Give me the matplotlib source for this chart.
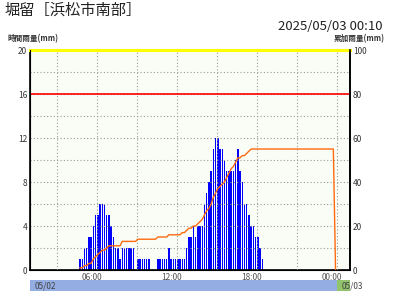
import matplotlib
matplotlib.use("Agg")
import matplotlib.pyplot as plt

plt.rcParams['font.family'] = ['Noto Sans CJK JP', 'DejaVu Sans']

station = "堀留［浜松市南部］"
stamp = "2025/05/03 00:10"

# one value every 10 minutes, first one ends at 04:50 (05/02), minutes from 05/02 00:00
first_end = 4 * 60 + 50
rain_1h = [1, 1, 2, 2, 3, 3,
           4, 5, 5, 6, 6, 6,
           5, 5, 4, 3, 2, 2,
           1, 2, 2, 2, 2, 2,
           2, 0, 1, 1, 1, 1,
           1, 1, 0, 0, 0, 1,
           1, 1, 1, 1, 2, 1,
           1, 1, 1, 1, 1, 1,
           2, 3, 3, 4, 3, 4,
           4, 4, 6, 7, 8, 9,
           11, 12, 12, 11, 11, 10,
           9, 9, 9, 9, 10, 11,
           9, 8, 6, 6, 5, 4,
           4, 3, 3, 2, 1]

rain_cum = [1, 1, 2, 2, 3, 3,
            5, 6, 7, 8, 9, 9,
            10, 11, 11, 11, 11, 11,
            11, 13, 13, 13, 13, 13,
            13, 13, 14, 14, 14, 14,
            14, 14, 14, 14, 14, 15,
            15, 15, 15, 15, 16, 16,
            16, 16, 16, 16, 17, 17,
            18, 19, 19, 20, 20, 21,
            22, 23, 25, 27, 28, 30,
            33, 35, 37, 38, 39, 40,
            42, 44, 46, 47, 49, 51,
            51, 52, 52, 53, 54, 55,
            55, 55, 55, 55, 55, 55,
            55, 55, 55, 55, 55, 55,
            55, 55, 55, 55, 55, 55,
            55, 55, 55, 55, 55, 55,
            55, 55, 55, 55, 55, 55,
            55, 55, 55, 55, 55, 55,
            55, 0]

hour_ticks = [360, 720, 1080, 1440]
hour_labels = ["06:00", "12:00", "18:00", "00:00"]
day_labels = ["05/02", "05/03"]

x_lo, x_hi = 60, 1500
bar_x = [first_end + 10 * i - 5 for i in range(len(rain_1h))]
cum_x = [first_end + 10 * i - 5 for i in range(len(rain_cum))]

fig = plt.figure(figsize=(4, 3), dpi=100)
ax = fig.add_axes([0.075, 0.1, 0.8, 0.7333])
ax.set_facecolor('#fafdf6')
ax.set_xlim(x_lo, x_hi)
ax.set_ylim(0, 20)

ax.bar(bar_x, rain_1h, width=6.5, color='#0000ff', linewidth=0, zorder=2)

# dotted grid on top of the bars
ax.hlines(range(2, 20, 2), x_lo, x_hi, colors='#999999', linestyles=(0, (1, 2)), lw=0.8, zorder=3)
ax.vlines(range(180, 1441, 180), 0, 20, colors='#999999', linestyles=(0, (1, 2)), lw=0.8, zorder=3)
ax.axhline(16, color='#ff0000', lw=1.2, zorder=4)
ax.axhline(20, color='#ffff00', lw=2.2, zorder=5, clip_on=False)

for s in ['left', 'bottom', 'right']:
    ax.spines[s].set_color('black')
    ax.spines[s].set_linewidth(1.2)
ax.spines['top'].set_visible(False)

ax.set_yticks(range(0, 21, 4))
ax.set_xticks([])
ax.tick_params(axis='y', length=0, labelsize=6, labelcolor='#333333', pad=2)
for t, lab in zip(hour_ticks, hour_labels):
    ax.text(t - 21, -0.25, lab, ha='center', va='top', fontsize=6, color='#555555')

ax2 = ax.twinx()
ax2.set_ylim(0, 100)
ax2.plot(cum_x, rain_cum, color='#ff6a10', lw=1.0, zorder=6)
ax2.set_yticks(range(0, 101, 20))
ax2.tick_params(axis='y', length=0, labelsize=6, labelcolor='#333333', pad=2)
ax2.spines['top'].set_visible(False)
ax2.spines['right'].set_linewidth(1.2)

fig.text(5 / 400, 1 - 10 / 300, station, fontsize=11, color='#222222', va='center', ha='left')
fig.text(382 / 400, 1 - 27 / 300, stamp, fontsize=9.5, color='#222222', va='center', ha='right')
fig.text(7 / 400, 1 - 38.5 / 300, "時間雨量(mm)", fontsize=5.5, color='#333333', va='center', ha='left', weight='bold')
fig.text(385 / 400, 1 - 38.5 / 300, "累加雨量(mm)", fontsize=5.5, color='#333333', va='center', ha='right', weight='bold')

# date strip
ax3 = fig.add_axes([0.075, 1 - 291 / 300, 0.8, 11 / 300])
ax3.set_xlim(x_lo, x_hi)
ax3.set_ylim(0, 1)
ax3.axis('off')
ax3.axvspan(x_lo, 1440, color='#94aee4', lw=0)
ax3.axvspan(1440, x_hi, color='#92c46e', lw=0)
ax3.text(x_lo + 22, 0.45, day_labels[0], fontsize=6, color='#444444', va='center', ha='left')
ax3.text(1464, 0.45, day_labels[1], fontsize=6, color='#444444', va='center', ha='left', clip_on=False)

fig.savefig('out.png', dpi=100)
